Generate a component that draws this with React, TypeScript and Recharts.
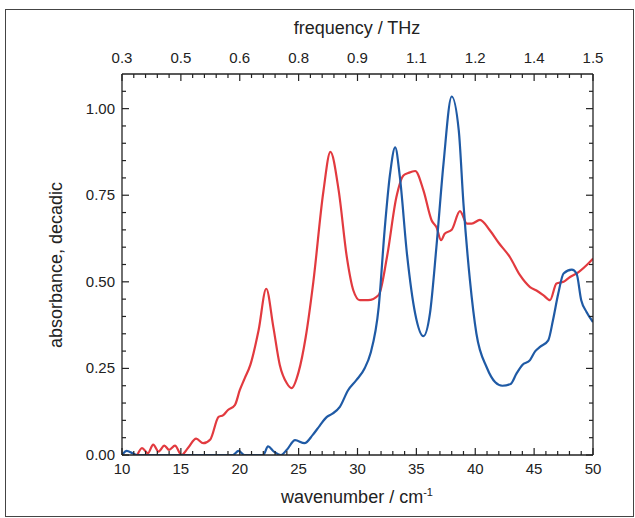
import React from "react";
import { LineChart, Line, XAxis, YAxis } from "recharts";

// red spectrum: wavenumber (cm-1) and absorbance
const redWavenumber = [
  11.3, 11.7, 12.2, 12.65, 13.1, 13.6, 14.0, 14.5, 15.05, 15.6, 16.3, 16.9, 17.5,
  18.2, 18.6, 19.0, 19.6, 20.0, 20.4, 20.9, 21.6, 22.25, 22.85, 23.4, 24.0, 24.4,
  25.0, 25.6, 26.25, 27.1, 27.7, 28.4, 29.1, 29.65, 30.2, 30.9, 31.8, 32.5, 33.3,
  33.9, 34.3, 34.9, 35.6, 36.3, 36.7, 37.1, 37.4, 38.0, 38.7, 39.3, 39.7, 40.4,
  41.25, 42.0, 42.95, 43.8, 44.65, 45.2, 45.8, 46.35, 46.9, 47.5, 48.05, 48.6,
  49.45, 50,
];
const redAbsorbance = [
  0, 0.02, 0.005, 0.03, 0.01, 0.027, 0.015, 0.027, 0.0, 0.02, 0.047, 0.034, 0.045,
  0.11, 0.115, 0.13, 0.145, 0.187, 0.22, 0.26, 0.36, 0.48, 0.37, 0.26, 0.207, 0.193,
  0.24, 0.34, 0.5, 0.76, 0.875, 0.764, 0.57, 0.475, 0.447, 0.447, 0.462, 0.571, 0.744,
  0.807, 0.814, 0.82, 0.764, 0.677, 0.658, 0.62, 0.639, 0.65, 0.704, 0.668, 0.668, 0.679,
  0.648, 0.612, 0.571, 0.519, 0.485, 0.475, 0.461, 0.447, 0.495, 0.5, 0.514, 0.524,
  0.548, 0.567,
];

// blue spectrum
const blueWavenumber = [
  10.0, 10.4, 10.9, 11.3, 19.4, 19.9, 20.4, 22.0, 22.4, 22.9, 23.5, 24.0, 24.7, 25.5,
  26.2, 26.8, 27.4, 27.9, 28.5, 29.2, 29.9, 30.6, 31.1, 31.8, 32.3, 32.76, 33.2, 33.6,
  34.2, 34.9, 35.6, 36.15, 36.7, 37.3, 38.0, 38.6, 39.0, 39.55, 40.1, 40.96, 41.7,
  42.3, 43.0, 43.5, 44.0, 44.65, 45.1, 45.5, 46.2, 46.6, 47.05, 47.5, 48.2, 48.6,
  49.0, 49.45, 50,
];
const blueAbsorbance = [
  0, 0.012, 0.005, 0, 0, 0.012, 0, 0, 0.025, 0.01, 0, 0.015, 0.043, 0.034,
  0.058, 0.085, 0.11, 0.12, 0.139, 0.187, 0.216, 0.25, 0.293, 0.427, 0.648, 0.81, 0.888, 0.802,
  0.581, 0.408, 0.343, 0.408, 0.6, 0.84, 1.035, 0.937, 0.725, 0.504, 0.35, 0.254, 0.21,
  0.2, 0.205, 0.235, 0.26, 0.274, 0.3, 0.312, 0.331, 0.389, 0.466, 0.524, 0.535, 0.524,
  0.447, 0.413, 0.384,
];

const xTicks = [
  10, 11, 12, 13, 14, 15, 16, 17, 18, 19, 20, 21, 22, 23, 24, 25, 26, 27, 28, 29, 30,
  31, 32, 33, 34, 35, 36, 37, 38, 39, 40, 41, 42, 43, 44, 45, 46, 47, 48, 49, 50,
];
const xMajor = [10, 15, 20, 25, 30, 35, 40, 45, 50];
const freqLabels = ["0.3", "0.5", "0.6", "0.8", "0.9", "1.1", "1.2", "1.4", "1.5"];

const yTicks = [
  0, 0.05, 0.1, 0.15, 0.2, 0.25, 0.3, 0.35, 0.4, 0.45, 0.5, 0.55, 0.6, 0.65, 0.7,
  0.75, 0.8, 0.85, 0.9, 0.95, 1.0, 1.05,
];
const yMajor = [0, 0.25, 0.5, 0.75, 1.0];

const redData = redWavenumber.map((w, i) => ({ w, a: redAbsorbance[i] }));
const blueData = blueWavenumber.map((w, i) => ({ w, a: blueAbsorbance[i] }));

const FONT = "'Liberation Sans', Arial, sans-serif";
const INK = "#222";

const isMajorY = (v: number) => yMajor.some((m) => Math.abs(m - v) < 1e-6);

function BottomTick({ x, y, payload }: any) {
  const v = payload.value;
  const major = xMajor.includes(v);
  return (
    <g>
      <line x1={x} x2={x} y1={y} y2={y - (major ? 7 : 4)} stroke={INK} strokeWidth={1.2} />
      {major && (
        <text x={x} y={y + 19} textAnchor="middle" fontSize={15} fontFamily={FONT} fill={INK}>
          {v}
        </text>
      )}
    </g>
  );
}

function TopTick({ x, y, payload }: any) {
  const v = payload.value;
  const idx = xMajor.indexOf(v);
  return (
    <g>
      <line x1={x} x2={x} y1={y} y2={y + (idx >= 0 ? 7 : 4)} stroke={INK} strokeWidth={1.2} />
      {idx >= 0 && (
        <text x={x} y={y - 11} textAnchor="middle" fontSize={15} fontFamily={FONT} fill={INK}>
          {freqLabels[idx]}
        </text>
      )}
    </g>
  );
}

function LeftTick({ x, y, payload }: any) {
  const v = payload.value;
  const major = isMajorY(v);
  return (
    <g>
      <line x1={x} x2={x + (major ? 7 : 4)} y1={y} y2={y} stroke={INK} strokeWidth={1.2} />
      {major && (
        <text x={x - 7} y={y + 5} textAnchor="end" fontSize={15} fontFamily={FONT} fill={INK}>
          {v.toFixed(2)}
        </text>
      )}
    </g>
  );
}

function RightTick({ x, y, payload }: any) {
  const major = isMajorY(payload.value);
  return <line x1={x} x2={x - (major ? 7 : 4)} y1={y} y2={y} stroke={INK} strokeWidth={1.2} />;
}

const axisLine = { stroke: INK, strokeWidth: 1.3 };

export default function App() {
  return (
    <div style={{ position: "absolute", left: 0, top: 0, width: 635, height: 518, background: "#fff" }}>
      <div
        style={{
          position: "absolute",
          left: 5,
          top: 9,
          width: 627,
          height: 506,
          border: "1px solid #444",
        }}
      />
      <LineChart width={635} height={518} margin={{ top: 73, right: 41, bottom: 62, left: 121 }}>
        <XAxis
          xAxisId="bottom"
          type="number"
          dataKey="w"
          domain={[10, 50]}
          allowDataOverflow
          ticks={xTicks}
          interval={0}
          height={1}
          tickSize={0}
          tickMargin={0}
          tick={<BottomTick />}
          axisLine={axisLine}
          tickLine={false}
        />
        <XAxis
          xAxisId="top"
          orientation="top"
          type="number"
          dataKey="w"
          domain={[10, 50]}
          allowDataOverflow
          ticks={xTicks}
          interval={0}
          height={1}
          tickSize={0}
          tickMargin={0}
          tick={<TopTick />}
          axisLine={axisLine}
          tickLine={false}
        />
        <YAxis
          yAxisId="left"
          type="number"
          domain={[0, 1.1]}
          allowDataOverflow
          ticks={yTicks}
          interval={0}
          width={1}
          tickSize={0}
          tickMargin={0}
          tick={<LeftTick />}
          axisLine={axisLine}
          tickLine={false}
        />
        <YAxis
          yAxisId="right"
          orientation="right"
          type="number"
          domain={[0, 1.1]}
          allowDataOverflow
          ticks={yTicks}
          interval={0}
          width={1}
          tickSize={0}
          tickMargin={0}
          tick={<RightTick />}
          axisLine={axisLine}
          tickLine={false}
        />
        <Line
          data={redData}
          xAxisId="bottom"
          yAxisId="left"
          dataKey="a"
          type="monotone"
          stroke="#e23a3f"
          strokeWidth={2.2}
          dot={false}
          isAnimationActive={false}
        />
        <Line
          data={blueData}
          xAxisId="top"
          yAxisId="right"
          dataKey="a"
          type="monotone"
          stroke="#1f5aa5"
          strokeWidth={2.2}
          dot={false}
          isAnimationActive={false}
        />
      </LineChart>
      <div
        style={{
          position: "absolute",
          left: 357,
          top: 28,
          transform: "translate(-50%, -50%)",
          fontFamily: FONT,
          fontSize: 18,
          color: INK,
          whiteSpace: "nowrap",
        }}
      >
        frequency / THz
      </div>
      <div
        style={{
          position: "absolute",
          left: 357,
          top: 497,
          transform: "translate(-50%, -50%)",
          fontFamily: FONT,
          fontSize: 18,
          color: INK,
          whiteSpace: "nowrap",
        }}
      >
        wavenumber / cm<sup style={{ fontSize: 11 }}>-1</sup>
      </div>
      <div
        style={{
          position: "absolute",
          left: 56,
          top: 265,
          transform: "translate(-50%, -50%) rotate(-90deg)",
          fontFamily: FONT,
          fontSize: 18,
          color: INK,
          whiteSpace: "nowrap",
        }}
      >
        absorbance, decadic
      </div>
    </div>
  );
}
